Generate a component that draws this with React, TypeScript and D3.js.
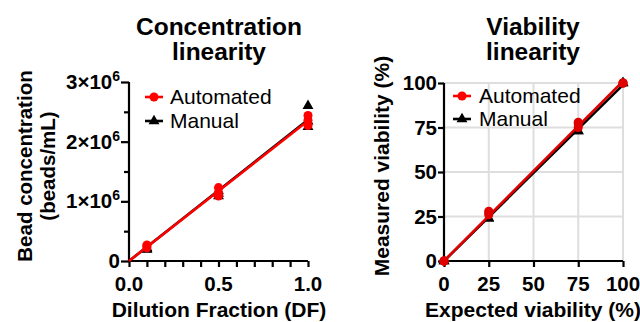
import { useEffect, useRef } from "react";
import * as d3 from "d3";

// Concentration linearity (beads/mL) vs dilution fraction
const dilutionFractions = [0.1, 0.5, 1.0];
const autoConc = [
	[0.22e6, 0.25e6, 0.27e6],
	[1.09e6, 1.15e6, 1.23e6],
	[2.27e6, 2.36e6, 2.44e6],
];
const manualConc = [
	[0.19e6, 0.2e6, 0.22e6],
	[1.09e6, 1.13e6, 1.17e6],
	[2.25e6, 2.34e6, 2.6e6],
];
const concTicks = [0, 1e6, 2e6, 3e6];
const dfTicks = [0, 0.5, 1];

// Viability linearity (%)
const expectedViability = [0, 25, 75, 100];
const autoViability = [
	[0, 0, 0],
	[26, 27, 28],
	[75, 77, 78],
	[100, 100, 100],
];
const manualViability = [
	[0, 0],
	[24, 24],
	[73, 73],
	[100, 100],
];
const viabilityTicks = [0, 25, 50, 75, 100];

const legendLabels = ["Automated", "Manual"];
const RED = "#ff0000";
const BLACK = "#000000";
const FONT = "'Liberation Sans', Arial, Helvetica, sans-serif";

// slope of least squares line through the origin
const slopeThroughOrigin = (xs: number[], ys: number[][]) => {
	let sxy = 0;
	let sxx = 0;
	xs.forEach((x, i) => {
		ys[i].forEach((y) => {
			sxy += x * y;
			sxx += x * x;
		});
	});
	return sxy / sxx;
};

type Sel = d3.Selection<SVGGElement, unknown, null, undefined>;

const drawSeries = (
	g: Sel,
	xs: number[],
	ys: number[][],
	x: d3.ScaleLinear<number, number>,
	y: d3.ScaleLinear<number, number>,
	color: string,
	shape: "circle" | "triangle"
) => {
	const slope = slopeThroughOrigin(xs, ys);
	const [x0, x1] = x.domain();
	g.append("line")
		.attr("x1", x(x0))
		.attr("y1", y(slope * x0))
		.attr("x2", x(x1))
		.attr("y2", y(slope * x1))
		.attr("stroke", color)
		.attr("stroke-width", 2.6);

	const pts = xs.flatMap((xv, i) => ys[i].map((yv) => [xv, yv]));
	const sym = d3
		.symbol()
		.type(shape === "circle" ? d3.symbolCircle : d3.symbolTriangle)
		.size(shape === "circle" ? 64 : 52);
	g.selectAll(null)
		.data(pts)
		.enter()
		.append("path")
		.attr("d", sym)
		.attr("transform", (d) => `translate(${x(d[0])},${y(d[1])})`)
		.attr("fill", color);
};

const drawLegend = (g: Sel, lx: number, ly: number[], tx: number) => {
	const colors = [RED, BLACK];
	legendLabels.forEach((label, i) => {
		g.append("line")
			.attr("x1", lx - 9)
			.attr("x2", lx + 9)
			.attr("y1", ly[i])
			.attr("y2", ly[i])
			.attr("stroke", colors[i])
			.attr("stroke-width", 2.6);
		g.append("path")
			.attr(
				"d",
				d3
					.symbol()
					.type(i === 0 ? d3.symbolCircle : d3.symbolTriangle)
					.size(i === 0 ? 64 : 52)
			)
			.attr("transform", `translate(${lx},${ly[i]})`)
			.attr("fill", colors[i]);
		g.append("text")
			.attr("x", tx)
			.attr("y", ly[i] + 7)
			.attr("font-size", 21)
			.attr("fill", BLACK)
			.text(label);
	});
};

const App = () => {
	const svgRef = useRef<SVGSVGElement>(null);

	useEffect(() => {
		if (!svgRef.current) return;
		const svg = d3.select(svgRef.current);
		svg.selectAll("*").remove();
		const root = svg.append("g").attr("font-family", FONT) as Sel;

		// ---------- Left panel ----------
		const xL = d3.scaleLinear().domain([0, 1]).range([129, 308]);
		const yL = d3.scaleLinear().domain([0, 3e6]).range([261, 82]);
		const left = root.append("g");

		left.append("text")
			.attr("x", 219)
			.attr("y", 35)
			.attr("text-anchor", "middle")
			.attr("font-size", 24.5)
			.attr("font-weight", "bold")
			.text("Concentration");
		left.append("text")
			.attr("x", 219)
			.attr("y", 60)
			.attr("text-anchor", "middle")
			.attr("font-size", 24.5)
			.attr("font-weight", "bold")
			.text("linearity");

		// y axis
		const yAxisL = left
			.append("g")
			.attr("transform", `translate(${xL(0)},0)`)
			.call(
				d3
					.axisLeft(yL)
					.tickValues(d3.range(0, 3e6 + 1, 0.5e6))
					.tickSize(5)
					.tickFormat(() => "")
			);
		yAxisL.selectAll(".tick line").attr("x2", (d: any) => (d % 1e6 === 0 ? -8 : -5));
		yAxisL.selectAll("line, path").attr("stroke", BLACK).attr("stroke-width", 2.2);
		yAxisL.select(".domain").attr("d", `M0,${yL(3e6)}V${yL(0)}`);

		concTicks.forEach((t) => {
			const txt = left
				.append("text")
				.attr("x", 120)
				.attr("y", yL(t) + 7)
				.attr("text-anchor", "end")
				.attr("font-size", 20.5)
				.attr("font-weight", "bold");
			if (t === 0) {
				txt.text("0");
			} else {
				txt.append("tspan").text(`${t / 1e6}×10`);
				txt.append("tspan").attr("font-size", 14).attr("dy", -8).text("6");
			}
		});

		// x axis
		const xAxisL = left
			.append("g")
			.attr("transform", `translate(0,${yL(0)})`)
			.call(
				d3
					.axisBottom(xL)
					.tickValues(d3.range(0, 1.0001, 0.1))
					.tickSize(6)
					.tickFormat(() => "")
			);
		xAxisL.selectAll("line, path").attr("stroke", BLACK).attr("stroke-width", 2.2);
		xAxisL.select(".domain").attr("d", `M${xL(0)},0H${xL(1)}`);

		dfTicks.forEach((t) => {
			left.append("text")
				.attr("x", xL(t))
				.attr("y", 291)
				.attr("text-anchor", "middle")
				.attr("font-size", 20.5)
				.attr("font-weight", "bold")
				.text(t.toFixed(1));
		});

		left.append("text")
			.attr("x", 219)
			.attr("y", 317)
			.attr("text-anchor", "middle")
			.attr("font-size", 21)
			.attr("font-weight", "bold")
			.text("Dilution Fraction (DF)");

		const yTitleL = left.append("g").attr("transform", "translate(0,166) rotate(-90)");
		yTitleL.append("text")
			.attr("x", 0)
			.attr("y", 32)
			.attr("text-anchor", "middle")
			.attr("font-size", 20.5)
			.attr("font-weight", "bold")
			.text("Bead concentration");
		yTitleL.append("text")
			.attr("x", 0)
			.attr("y", 55)
			.attr("text-anchor", "middle")
			.attr("font-size", 20.5)
			.attr("font-weight", "bold")
			.text("(beads/mL)");

		drawSeries(left, dilutionFractions, manualConc, xL, yL, BLACK, "triangle");
		drawSeries(left, dilutionFractions, autoConc, xL, yL, RED, "circle");
		drawLegend(left, 154, [97, 121], 170);

		// ---------- Right panel ----------
		const xR = d3.scaleLinear().domain([0, 100]).range([444, 623]);
		const yR = d3.scaleLinear().domain([0, 100]).range([261, 83]);
		const right = root.append("g");

		right.append("text")
			.attr("x", 533)
			.attr("y", 35)
			.attr("text-anchor", "middle")
			.attr("font-size", 24.5)
			.attr("font-weight", "bold")
			.text("Viability");
		right.append("text")
			.attr("x", 533)
			.attr("y", 60)
			.attr("text-anchor", "middle")
			.attr("font-size", 24.5)
			.attr("font-weight", "bold")
			.text("linearity");

		// grid
		viabilityTicks.slice(1).forEach((t) => {
			right.append("line")
				.attr("x1", xR(t))
				.attr("x2", xR(t))
				.attr("y1", yR(0))
				.attr("y2", yR(100))
				.attr("stroke", "#dedede")
				.attr("stroke-width", 2);
			right.append("line")
				.attr("x1", xR(0))
				.attr("x2", xR(100))
				.attr("y1", yR(t))
				.attr("y2", yR(t))
				.attr("stroke", "#dedede")
				.attr("stroke-width", 2);
		});

		const yAxisR = right
			.append("g")
			.attr("transform", `translate(${xR(0)},0)`)
			.call(d3.axisLeft(yR).tickValues(viabilityTicks).tickSize(6).tickFormat(() => ""));
		yAxisR.selectAll("line, path").attr("stroke", BLACK).attr("stroke-width", 2.2);
		yAxisR.select(".domain").attr("d", `M0,${yR(100)}V${yR(0)}`);

		const xAxisR = right
			.append("g")
			.attr("transform", `translate(0,${yR(0)})`)
			.call(d3.axisBottom(xR).tickValues(viabilityTicks).tickSize(6).tickFormat(() => ""));
		xAxisR.selectAll("line, path").attr("stroke", BLACK).attr("stroke-width", 2.2);
		xAxisR.select(".domain").attr("d", `M${xR(0)},0H${xR(100)}`);

		viabilityTicks.forEach((t) => {
			right.append("text")
				.attr("x", 437)
				.attr("y", yR(t) + 7)
				.attr("text-anchor", "end")
				.attr("font-size", 20.5)
				.attr("font-weight", "bold")
				.text(String(t));
			right.append("text")
				.attr("x", xR(t))
				.attr("y", 291)
				.attr("text-anchor", "middle")
				.attr("font-size", 20.5)
				.attr("font-weight", "bold")
				.text(String(t));
		});

		right.append("text")
			.attr("x", 533)
			.attr("y", 317)
			.attr("text-anchor", "middle")
			.attr("font-size", 21)
			.attr("font-weight", "bold")
			.text("Expected viability (%)");

		right.append("text")
			.attr("transform", "translate(389,166) rotate(-90)")
			.attr("text-anchor", "middle")
			.attr("font-size", 21)
			.attr("font-weight", "bold")
			.text("Measured viability (%)");

		drawSeries(right, expectedViability, manualViability, xR, yR, BLACK, "triangle");
		drawSeries(right, expectedViability, autoViability, xR, yR, "#e00000", "circle");
		drawLegend(right, 462, [96, 119], 479);
	}, []);

	return (
		<svg
			ref={svgRef}
			width={640}
			height={322}
			style={{ position: "absolute", left: 0, top: 0, background: "#fff" }}
		/>
	);
};

export default App;
